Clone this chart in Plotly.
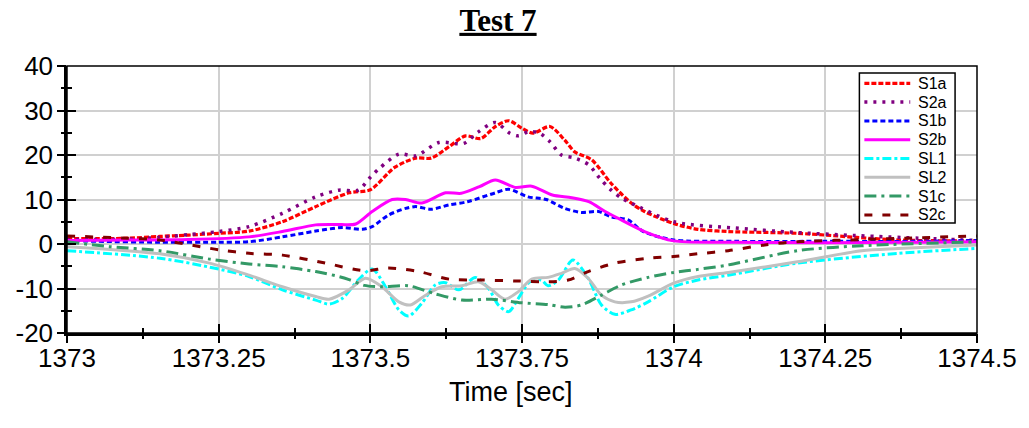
import plotly.graph_objects as go

# ---- data ----
s1a_t = [1373.00, 1373.05, 1373.10, 1373.153, 1373.20, 1373.25, 1373.30, 1373.355, 1373.41, 1373.465,
         1373.50, 1373.54, 1373.575, 1373.60, 1373.63, 1373.657, 1373.682, 1373.706, 1373.728, 1373.75,
         1373.768, 1373.796, 1373.82, 1373.837, 1373.865, 1373.897, 1373.93, 1373.952, 1374.0, 1374.04,
         1374.09, 1374.204, 1374.37, 1374.5]
s1a_v = [1.2, 1.2, 1.3, 1.7, 2.0, 2.4, 2.9, 5.0, 8.4, 11.5,
         12.2, 17.2, 19.3, 19.3, 21.9, 24.3, 23.7, 26.4, 27.7, 26.0,
         24.9, 26.4, 23.4, 20.7, 18.9, 13.6, 9.2, 7.3, 4.6, 3.3,
         2.8, 2.4, 0.9, 0.7]

s2a_t = [1373.00, 1373.10, 1373.153, 1373.20, 1373.25, 1373.30, 1373.355, 1373.41, 1373.448, 1373.48,
         1373.50, 1373.515, 1373.547, 1373.575, 1373.613, 1373.654, 1373.678, 1373.706, 1373.73, 1373.744,
         1373.76, 1373.778, 1373.796, 1373.815, 1373.835, 1373.86, 1373.878, 1373.897, 1373.914, 1373.93,
         1374.0, 1374.1, 1374.2, 1374.3, 1374.5]
s2a_v = [1.0, 1.1, 1.5, 2.1, 2.8, 3.9, 6.9, 10.6, 12.1, 12.1,
         15.0, 17.0, 20.2, 19.8, 22.8, 22.6, 25.2, 27.3, 24.9, 24.3,
         25.2, 25.0, 23.0, 20.0, 19.4, 17.8, 14.8, 12.1, 10.3, 9.2,
         5.0, 3.6, 2.6, 1.9, 0.8]

s1b_t = [1373.00, 1373.05, 1373.153, 1373.25, 1373.30, 1373.355, 1373.41, 1373.454, 1373.487, 1373.503,
         1373.53, 1373.558, 1373.575, 1373.60, 1373.63, 1373.66, 1373.706, 1373.728, 1373.76, 1373.79,
         1373.82, 1373.848, 1373.876, 1373.897, 1373.925, 1373.95, 1374.0, 1374.1, 1374.25, 1374.4, 1374.5]
s1b_v = [0.8, 0.6, 0.4, 0.4, 0.5, 1.6, 2.9, 3.7, 3.3, 3.9,
         6.5, 8.0, 8.4, 7.8, 8.8, 9.5, 11.5, 12.3, 10.6, 10.0,
         8.0, 7.1, 7.3, 6.1, 5.4, 2.8, 0.9, 0.6, 0.6, 0.6, 0.8]

s2b_t = [1373.00, 1373.10, 1373.20, 1373.30, 1373.355, 1373.41, 1373.443, 1373.476, 1373.503, 1373.536,
         1373.558, 1373.585, 1373.624, 1373.65, 1373.68, 1373.706, 1373.739, 1373.766, 1373.80, 1373.832,
         1373.86, 1373.887, 1373.908, 1373.952, 1374.0, 1374.1, 1374.25, 1374.4, 1374.5]
s2b_v = [0.8, 0.9, 1.0, 1.6, 2.8, 4.3, 4.4, 4.5, 7.3, 10.0,
         10.0, 9.2, 11.5, 11.4, 12.9, 14.4, 12.7, 13.0, 11.0, 10.4,
         9.5, 7.3, 5.8, 2.8, 0.7, 0.4, 0.3, 0.4, 0.5]

sl1_t = [1373.00, 1373.153, 1373.235, 1373.30, 1373.355, 1373.41, 1373.432, 1373.454, 1373.48, 1373.503,
         1373.525, 1373.547, 1373.563, 1373.585, 1373.607, 1373.624, 1373.646, 1373.673, 1373.695, 1373.711,
         1373.728, 1373.744, 1373.763, 1373.782, 1373.793, 1373.81, 1373.834, 1373.859, 1373.881, 1373.903,
         1373.93, 1373.958, 1374.0, 1374.04, 1374.09, 1374.204, 1374.37, 1374.5]
sl1_v = [-1.5, -3.2, -5.2, -7.3, -10.3, -12.6, -13.5, -12.2, -8.1, -5.6,
         -9.6, -14.8, -16.2, -13.3, -9.2, -8.7, -10.3, -7.5, -10.0, -13.7,
         -15.2, -12.2, -8.5, -8.1, -9.4, -8.1, -3.6, -7.7, -13.7, -15.8,
         -14.8, -13.0, -9.6, -8.1, -7.0, -4.3, -2.1, -1.0]

sl2_t = [1373.00, 1373.153, 1373.235, 1373.30, 1373.355, 1373.41, 1373.432, 1373.465, 1373.492, 1373.519,
         1373.547, 1373.566, 1373.591, 1373.618, 1373.651, 1373.678, 1373.700, 1373.722, 1373.744, 1373.766,
         1373.793, 1373.815, 1373.837, 1373.859, 1373.881, 1373.903, 1373.930, 1373.958, 1374.0, 1374.04,
         1374.09, 1374.204, 1374.31, 1374.37, 1374.5]
sl2_v = [-0.6, -2.2, -4.3, -7.0, -9.6, -11.8, -12.4, -10.3, -7.7, -9.6,
         -13.0, -13.7, -11.5, -9.6, -9.4, -8.5, -10.3, -12.4, -10.7, -7.9,
         -7.5, -6.6, -5.5, -7.7, -11.5, -13.0, -13.0, -11.7, -8.8, -7.3,
         -6.4, -4.0, -1.5, -1.0, -0.2]

s1c_t = [1373.00, 1373.07, 1373.153, 1373.235, 1373.30, 1373.355, 1373.41, 1373.448, 1373.465, 1373.49,
         1373.52, 1373.563, 1373.607, 1373.651, 1373.700, 1373.749, 1373.793, 1373.821, 1373.848, 1373.881,
         1373.914, 1373.958, 1374.0, 1374.04, 1374.09, 1374.204, 1374.31, 1374.5]
s1c_v = [0.5, -0.6, -1.5, -3.4, -4.5, -5.1, -6.2, -7.3, -8.0, -9.3,
         -9.6, -9.4, -11.2, -12.6, -12.4, -13.2, -13.6, -14.2, -13.7, -11.5,
         -9.2, -7.5, -6.4, -5.7, -4.7, -1.5, -0.4, 0.5]

s2c_t = [1373.00, 1373.10, 1373.153, 1373.22, 1373.25, 1373.30, 1373.355, 1373.426, 1373.49, 1373.53,
         1373.58, 1373.63, 1373.684, 1373.739, 1373.793, 1373.826, 1373.859, 1373.903, 1373.958, 1374.0,
         1374.04, 1374.09, 1374.15, 1374.204, 1374.31, 1374.5]
s2c_v = [1.8, 1.3, 0.9, -0.6, -1.3, -2.1, -2.5, -4.3, -6.0, -5.4,
         -6.2, -7.9, -8.1, -8.3, -8.5, -8.1, -6.2, -4.3, -3.2, -2.8,
         -2.2, -1.5, -0.2, 0.5, 1.0, 1.8]

x_tickvals = [1373, 1373.25, 1373.5, 1373.75, 1374, 1374.25, 1374.5]
x_ticktext = ["1373", "1373.25", "1373.5", "1373.75", "1374", "1374.25", "1374.5"]
y_tickvals = [-20, -10, 0, 10, 20, 30, 40]
y_ticktext = ["-20", "-10", "0", "10", "20", "30", "40"]

series_names = ["S1a", "S2a", "S1b", "S2b", "SL1", "SL2", "S1c", "S2c"]
series_t = [s1a_t, s2a_t, s1b_t, s2b_t, sl1_t, sl2_t, s1c_t, s2c_t]
series_v = [s1a_v, s2a_v, s1b_v, s2b_v, sl1_v, sl2_v, s1c_v, s2c_v]
colors = ["#ff0000", "#800080", "#0000ff", "#ff00ff", "#00ffff", "#c0c0c0", "#339966", "#800000"]
dashes = ["5px,2px", "3px,6px", "5px,3px", "solid", "9px,3px,3px,3px", "solid", "12px,5px,3px,5px", "8px,10px"]
widths = [3.2, 3.5, 3, 3, 3, 3, 3, 3]

# plot-area geometry (px) used to place the hand-drawn legend
L, R, T, B = 67, 980, 66, 333
W, H = R - L, B - T


def px_x(p):
    return (p - L) / W


def px_y(p):
    return (B - p) / H


fig = go.Figure()
for name, t, v, col, dash, w in zip(series_names, series_t, series_v, colors, dashes, widths):
    fig.add_trace(go.Scatter(x=t, y=v, name=name, mode="lines", showlegend=False,
                             line=dict(color=col, dash=dash, width=w, shape="spline", smoothing=0.8)))

# invisible trace for the overlay axes (outside half of crossing ticks)
fig.add_trace(go.Scatter(x=[1373], y=[0], xaxis="x2", yaxis="y2", mode="markers",
                         marker=dict(opacity=0), showlegend=False, hoverinfo="skip"))

tickfont = dict(family="Liberation Sans, Arial", size=26, color="black")

shapes = [dict(type="rect", xref="paper", yref="paper", x0=0, x1=1, y0=0, y1=1,
               line=dict(color="black", width=1.5), layer="above")]
annotations = [dict(text="Time [sec]", xref="paper", yref="paper", x=px_x(512), y=px_y(392),
                    xanchor="center", yanchor="middle", showarrow=False,
                    font=dict(family="Liberation Sans, Arial", size=27, color="black"))]

# legend box
shapes.append(dict(type="rect", xref="paper", yref="paper", x0=px_x(862), x1=px_x(958),
                   y0=px_y(223), y1=px_y(73), line=dict(color="black", width=1.5),
                   fillcolor="white", layer="above"))
for i, (name, col, dash, w) in enumerate(zip(series_names, colors, dashes, widths)):
    yc = 83.3 + i * 18.8
    shapes.append(dict(type="line", xref="paper", yref="paper", x0=px_x(867), x1=px_x(913),
                       y0=px_y(yc), y1=px_y(yc), line=dict(color=col, dash=dash, width=w),
                       layer="above"))
    annotations.append(dict(text=name, xref="paper", yref="paper", x=px_x(919), y=px_y(yc),
                            xanchor="left", yanchor="middle", showarrow=False,
                            font=dict(family="Liberation Sans, Arial", size=16, color="black")))

fig.update_layout(
    width=1029, height=428,
    margin=dict(l=L, r=1029 - R, t=T, b=428 - B),
    paper_bgcolor="white", plot_bgcolor="white",
    title=dict(text="<b><u>Test 7</u></b>", x=498 / 1029, xanchor="center",
               y=1 - 20 / 428, yanchor="middle", yref="container",
               font=dict(family="Liberation Serif, Times New Roman", size=31, color="black")),
    xaxis=dict(range=[1373, 1374.5], tickvals=x_tickvals, ticktext=x_ticktext,
               showgrid=True, gridcolor="#d0d0d0", gridwidth=1.5, zeroline=False,
               showline=True, linecolor="black", linewidth=2.5,
               ticks="inside", ticklen=9, tickwidth=2, tickcolor="black",
               minor=dict(ticks="inside", ticklen=5, tickwidth=1.5, tickcolor="black",
                          dtick=0.125, tick0=1373, showgrid=False),
               ticklabelstandoff=0, tickfont=tickfont),
    yaxis=dict(range=[-20, 40], tickvals=y_tickvals, ticktext=y_ticktext,
               showgrid=True, gridcolor="#d0d0d0", gridwidth=1.5, zeroline=False,
               showline=True, linecolor="black", linewidth=2.5,
               ticks="inside", ticklen=9, tickwidth=2, tickcolor="black",
               minor=dict(ticks="inside", ticklen=5, tickwidth=1.5, tickcolor="black",
                          dtick=5, tick0=0, showgrid=False),
               ticklabelstandoff=6, tickfont=tickfont),
    xaxis2=dict(range=[1373, 1374.5], overlaying="x", anchor="y2", side="bottom",
                tickvals=x_tickvals, showticklabels=False, showgrid=False, zeroline=False,
                showline=False, ticks="outside", ticklen=9, tickwidth=2, tickcolor="black",
                minor=dict(ticks="outside", ticklen=5, tickwidth=1.5, tickcolor="black",
                           dtick=0.125, tick0=1373, showgrid=False)),
    yaxis2=dict(range=[-20, 40], overlaying="y", anchor="x2", side="left",
                tickvals=y_tickvals, showticklabels=False, showgrid=False, zeroline=False,
                showline=False, ticks="outside", ticklen=9, tickwidth=2, tickcolor="black",
                minor=dict(ticks="outside", ticklen=5, tickwidth=1.5, tickcolor="black",
                           dtick=5, tick0=0, showgrid=False)),
    shapes=shapes,
    annotations=annotations,
    showlegend=False,
)

fig.write_html("out.html")
